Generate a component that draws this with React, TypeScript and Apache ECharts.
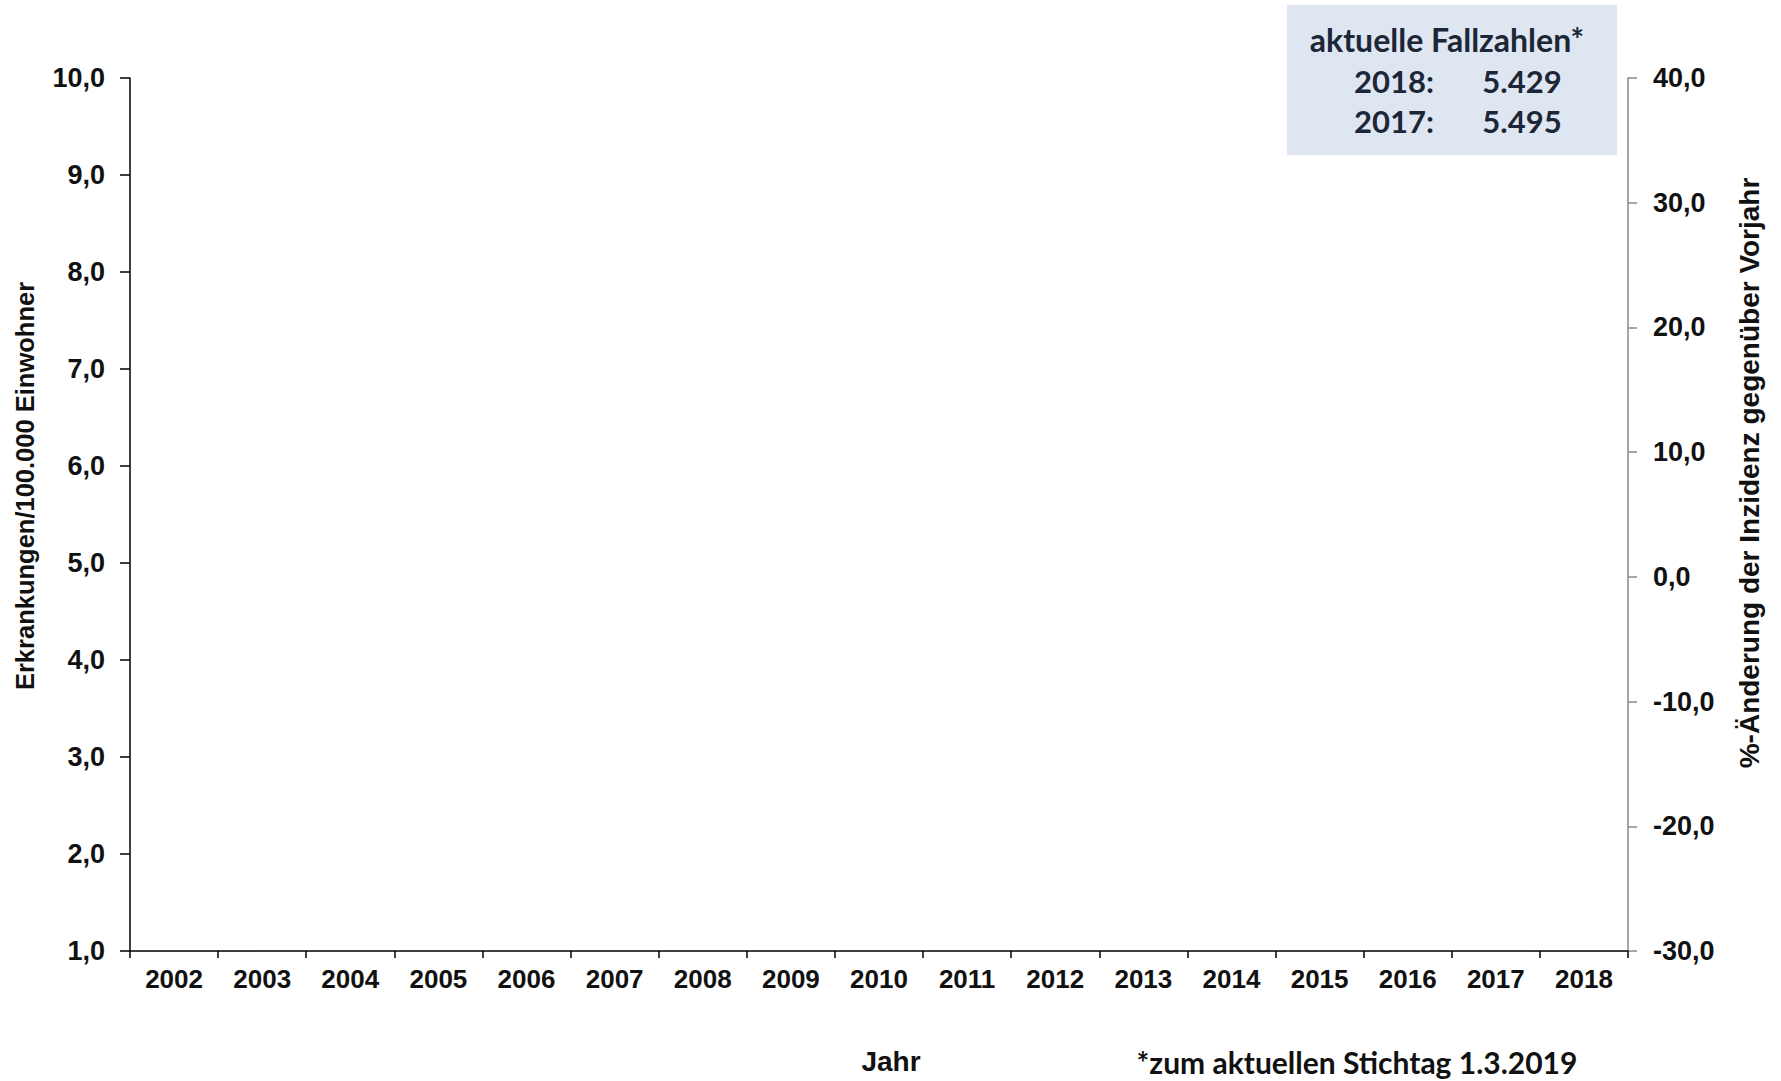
import React, { useEffect, useRef } from "react";
import * as echarts from "echarts";

const categories = [
  "2002", "2003", "2004", "2005", "2006", "2007", "2008", "2009", "2010",
  "2011", "2012", "2013", "2014", "2015", "2016", "2017", "2018",
];
const leftAxis = { min: 1, max: 10, interval: 1 };
const rightAxis = { min: -30, max: 40, interval: 10 };
const boxTitle = "aktuelle Fallzahlen*";
const boxYears = ["2018:", "2017:"];
const boxValues = ["5.429", "5.495"];
const leftTitle = "Erkrankungen/100.000 Einwohner";
const rightTitle = "%-Änderung der Inzidenz gegenüber Vorjahr";
const xTitle = "Jahr";
const footnote = "*zum aktuellen Stichtag 1.3.2019";

const fmt = (v: number) => v.toFixed(1).replace(".", ",");

export default function App() {
  const ref = useRef<HTMLDivElement>(null);
  useEffect(() => {
    if (!ref.current) return;
    const chart = echarts.init(ref.current, null, { renderer: "svg" });
    const boxFont = "Lato, 'Open Sans', sans-serif";
    const arial = "'Liberation Sans', Arial, sans-serif";
    const navy = "#1c2636";
    chart.setOption({
      animation: false,
      backgroundColor: "#ffffff",
      grid: { left: 130, right: 1781 - 1628, top: 78, bottom: 1081 - 951, containLabel: false },
      xAxis: {
        type: "category",
        data: categories,
        boundaryGap: true,
        axisLine: { onZero: false, lineStyle: { color: "#000", width: 1.5 } },
        axisTick: { show: true, length: 7, inside: false, lineStyle: { color: "#000", width: 1.5 } },
        axisLabel: {
          color: "#111",
          fontFamily: arial,
          fontWeight: "bold",
          fontSize: 26,
          margin: 15,
        },
        splitLine: { show: false },
      },
      yAxis: [
        {
          type: "value",
          min: leftAxis.min,
          max: leftAxis.max,
          interval: leftAxis.interval,
          position: "left",
          axisLine: { show: true, onZero: false, lineStyle: { color: "#000", width: 1.5 } },
          axisTick: { show: true, length: 10, lineStyle: { color: "#000", width: 1.5 } },
          axisLabel: {
            formatter: fmt,
            color: "#111",
            fontFamily: arial,
            fontWeight: "bold",
            fontSize: 27,
            margin: 25,
          },
          splitLine: { show: false },
        },
        {
          type: "value",
          min: rightAxis.min,
          max: rightAxis.max,
          interval: rightAxis.interval,
          position: "right",
          axisLine: { show: true, onZero: false, lineStyle: { color: "#8a8a8a", width: 1.5 } },
          axisTick: { show: true, length: 9, lineStyle: { color: "#8a8a8a", width: 1.5 } },
          axisLabel: {
            formatter: fmt,
            color: "#111",
            fontFamily: arial,
            fontWeight: "bold",
            fontSize: 27,
            margin: 25,
          },
          splitLine: { show: false },
        },
      ],
      series: [
        { type: "line", yAxisIndex: 0, data: [], silent: true },
        { type: "line", yAxisIndex: 1, data: [], silent: true },
      ],
      graphic: [
        {
          type: "text",
          x: 25,
          y: 486,
          rotation: Math.PI / 2,
          style: {
            text: leftTitle,
            fill: "#111",
            font: `bold 25.5px ${arial}`,
            textAlign: "center",
            textVerticalAlign: "middle",
          },
        },
        {
          type: "text",
          x: 1749,
          y: 473,
          rotation: Math.PI / 2,
          style: {
            text: rightTitle,
            fill: "#111",
            font: `bold 28px ${arial}`,
            textAlign: "center",
            textVerticalAlign: "middle",
          },
        },
        {
          type: "rect",
          shape: { x: 1287, y: 5, width: 330, height: 150 },
          style: { fill: "#dde6f1" },
          z: 1,
        },
        {
          type: "text",
          x: 1447,
          y: 39,
          z: 2,
          style: {
            text: boxTitle,
            fill: navy,
            font: `bold 32px ${boxFont}`,
            textAlign: "center",
            textVerticalAlign: "middle",
          },
        },
        ...boxYears.map((yr, i) => ({
          type: "text",
          x: 1394,
          y: 81 + i * 40,
          z: 2,
          style: {
            text: yr,
            fill: navy,
            font: `bold 31px ${boxFont}`,
            textAlign: "center",
            textVerticalAlign: "middle",
          },
        })),
        ...boxValues.map((v, i) => ({
          type: "text",
          x: 1522,
          y: 81 + i * 40,
          z: 2,
          style: {
            text: v,
            fill: navy,
            font: `bold 31px ${boxFont}`,
            textAlign: "center",
            textVerticalAlign: "middle",
          },
        })),
        {
          type: "text",
          x: 891,
          y: 1061,
          style: {
            text: xTitle,
            fill: "#111",
            font: `bold 28px ${arial}`,
            textAlign: "center",
            textVerticalAlign: "middle",
          },
        },
        {
          type: "text",
          x: 1357,
          y: 1062,
          style: {
            text: footnote,
            fill: "#111",
            font: `bold 30px ${boxFont}`,
            textAlign: "center",
            textVerticalAlign: "middle",
          },
        },
      ],
    });
    return () => chart.dispose();
  }, []);
  return (
    <div
      ref={ref}
      style={{ position: "absolute", left: 0, top: 0, width: 1781, height: 1081, background: "#fff" }}
    />
  );
}
